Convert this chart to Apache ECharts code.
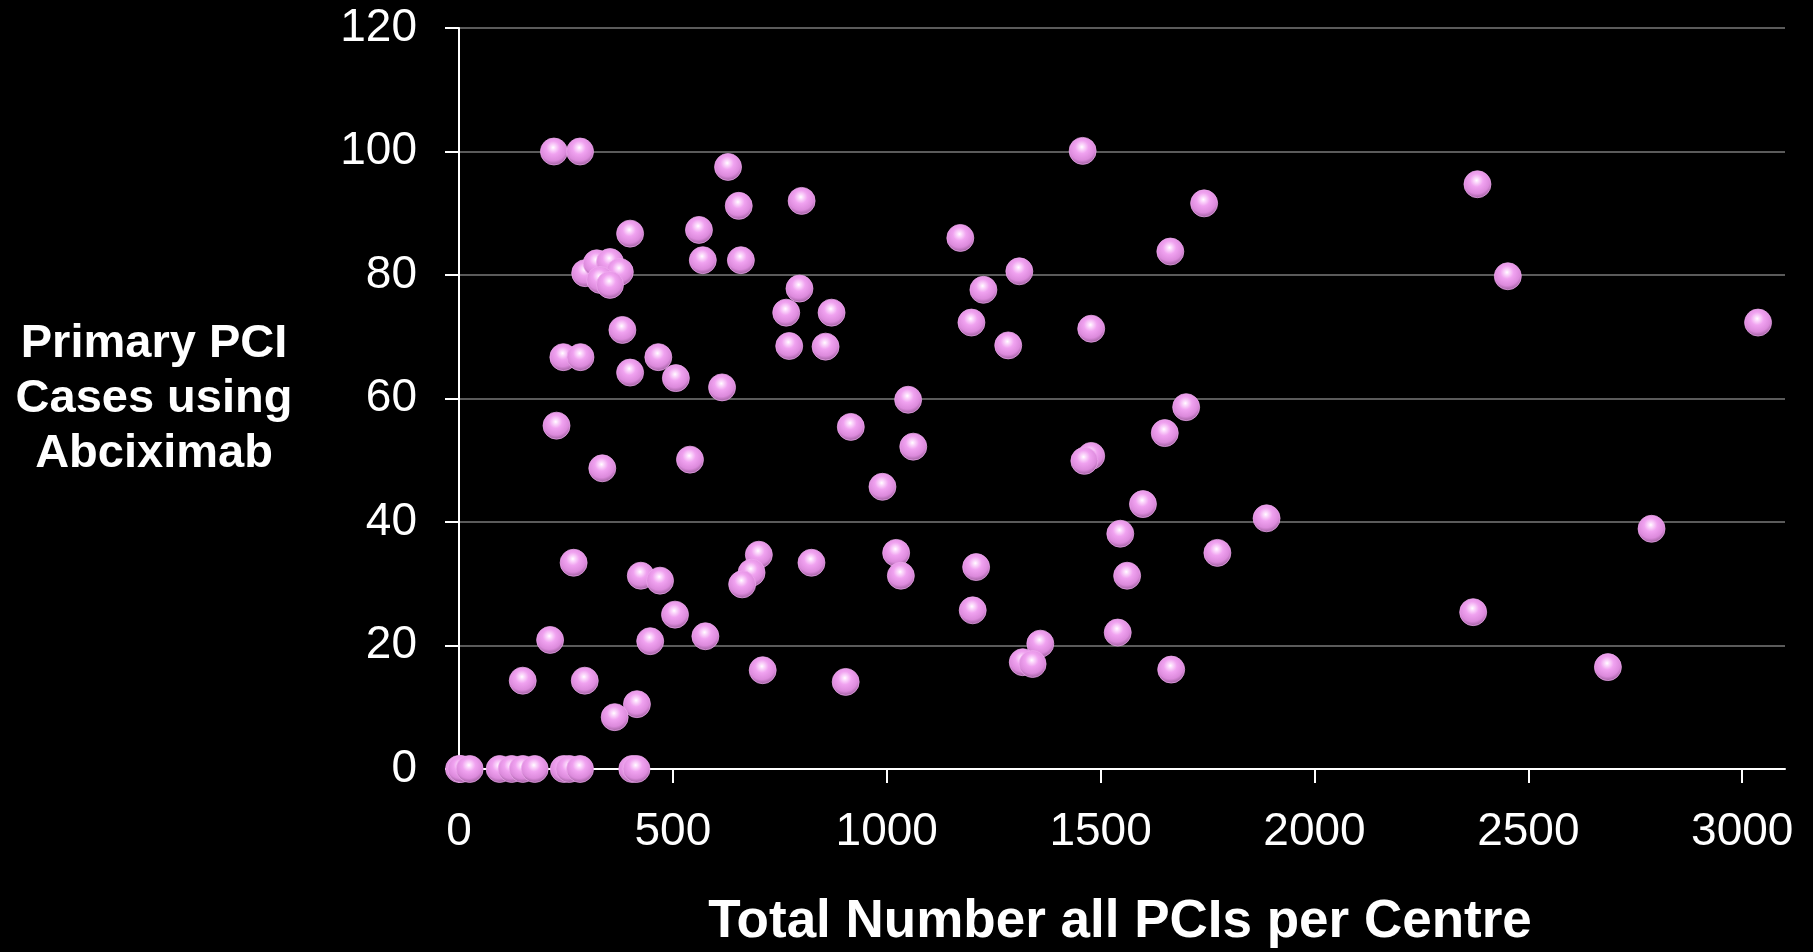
<!DOCTYPE html>
<html>
<head>
<meta charset="utf-8">
<script src="https://cdn.jsdelivr.net/npm/echarts@6/dist/echarts.min.js"></script>
<style>
html,body{margin:0;padding:0;background:#000;}
#chart{width:1813px;height:952px;}
</style>
</head>
<body>
<div id="chart"></div>
<script>
// Total number of all PCIs per centre (x)
const totalPCIs = [
  222, 283, 629, 654, 801, 400, 561, 570, 659,
  295, 322, 353, 376, 330, 353,
  796, 765, 871, 772, 857, 382, 244, 284, 466, 400, 507, 615,
  228, 335, 540, 268, 425, 470, 701, 684, 662, 824, 505, 213, 447, 576, 149, 294, 710, 416, 364,
  0, 5, 25, 95, 123, 149, 177, 245, 258, 283, 405, 415,
  1458, 1742, 1172, 1663, 1310, 1226, 1198, 1284, 1478, 1050, 916, 1700, 1650, 1062, 990,
  1478, 1462, 1599, 1546, 1773, 1888, 1022, 1033, 1209, 1562, 1201, 1540, 1359, 1318, 1341, 1665, 904,
  2381, 2452, 3037, 2788, 2371, 2686
];
// Primary PCI cases using Abciximab (%) (y)
const abciximabCases = [
  100, 100, 97.5, 91.2, 92.0, 86.7, 87.3, 82.4, 82.4,
  80.3, 81.9, 82.1, 80.5, 79.2, 78.4,
  77.8, 73.9, 73.9, 68.5, 68.4, 71.1, 66.7, 66.7, 66.7, 64.2, 63.3, 61.8,
  55.6, 48.7, 50.1, 33.4, 31.3, 30.5, 34.7, 31.8, 29.9, 33.4, 25.0, 20.9, 20.7, 21.5, 14.3, 14.3, 16.0, 10.5, 8.4,
  0, 0, 0, 0, 0, 0, 0, 0, 0, 0, 0, 0,
  100.1, 91.6, 86.0, 83.8, 80.6, 77.6, 72.3, 68.6, 71.3, 59.8, 55.4, 58.6, 54.4, 52.2, 45.7,
  50.7, 49.9, 42.9, 38.1, 35.0, 40.6, 35.0, 31.3, 32.7, 31.3, 25.7, 22.1, 20.3, 17.3, 17.0, 16.1, 14.1,
  94.7, 79.8, 72.3, 38.9, 25.4, 16.5
];
const xTicks = [0, 500, 1000, 1500, 2000, 2500, 3000];
const yTicks = [0, 20, 40, 60, 80, 100, 120];
const xTitle = 'Total Number all PCIs per Centre';
const yTitle = 'Primary PCI\nCases using\nAbciximab';

const points = totalPCIs.map((x, i) => [x, abciximabCases[i]]);
const FONT = 'Arial, "Liberation Sans", sans-serif';

const chart = echarts.init(document.getElementById('chart'), null, {renderer: 'canvas'});
chart.setOption({
  backgroundColor: '#000000',
  animation: false,
  grid: {left: 459, right: 28, top: 28, bottom: 183, containLabel: false},
  xAxis: {
    type: 'value',
    min: 0, max: 3100, interval: 500,
    axisLine: {show: true, lineStyle: {color: '#ffffff', width: 2}},
    axisTick: {show: true, length: 14, lineStyle: {color: '#ffffff', width: 2}, customValues: xTicks},
    axisLabel: {color: '#ffffff', fontSize: 46, fontFamily: FONT, margin: 40, customValues: xTicks,
      formatter: v => String(v)},
    splitLine: {show: false}
  },
  yAxis: {
    type: 'value',
    min: 0, max: 120, interval: 20,
    axisLine: {show: true, lineStyle: {color: '#ffffff', width: 2}},
    axisTick: {show: true, length: 14, lineStyle: {color: '#ffffff', width: 2}, customValues: yTicks},
    axisLabel: {color: '#ffffff', fontSize: 46, fontFamily: FONT, margin: 42, customValues: yTicks,
      formatter: v => String(v)},
    splitLine: {show: true, lineStyle: {color: '#7a7a7a', width: 1.5}}
  },
  graphic: [
    {type: 'text', x: 154, y: 399, style: {text: yTitle, fill: '#ffffff', font: 'bold 47px ' + FONT, lineHeight: 55, align: 'center', verticalAlign: 'middle'}},
    {type: 'text', x: 1120, y: 922, style: {text: xTitle, fill: '#ffffff', font: 'bold 53px ' + FONT, align: 'center', verticalAlign: 'middle'}}
  ],
  series: [{
    type: 'scatter',
    data: points,
    symbol: 'circle',
    symbolSize: 27,
    itemStyle: {
      opacity: 1,
      color: {
        type: 'radial', x: 0.47, y: 0.36, r: 0.68,
        colorStops: [
          {offset: 0, color: '#ffffff'},
          {offset: 0.1, color: '#fde0fd'},
          {offset: 0.35, color: '#f0a2f0'},
          {offset: 0.7, color: '#dc8adc'},
          {offset: 0.9, color: '#a866a8'},
          {offset: 1, color: '#7a467a'}
        ]
      },
      borderColor: 'rgba(240,170,240,0.9)',
      borderWidth: 0.8
    }
  }]
});
</script>
</body>
</html>
